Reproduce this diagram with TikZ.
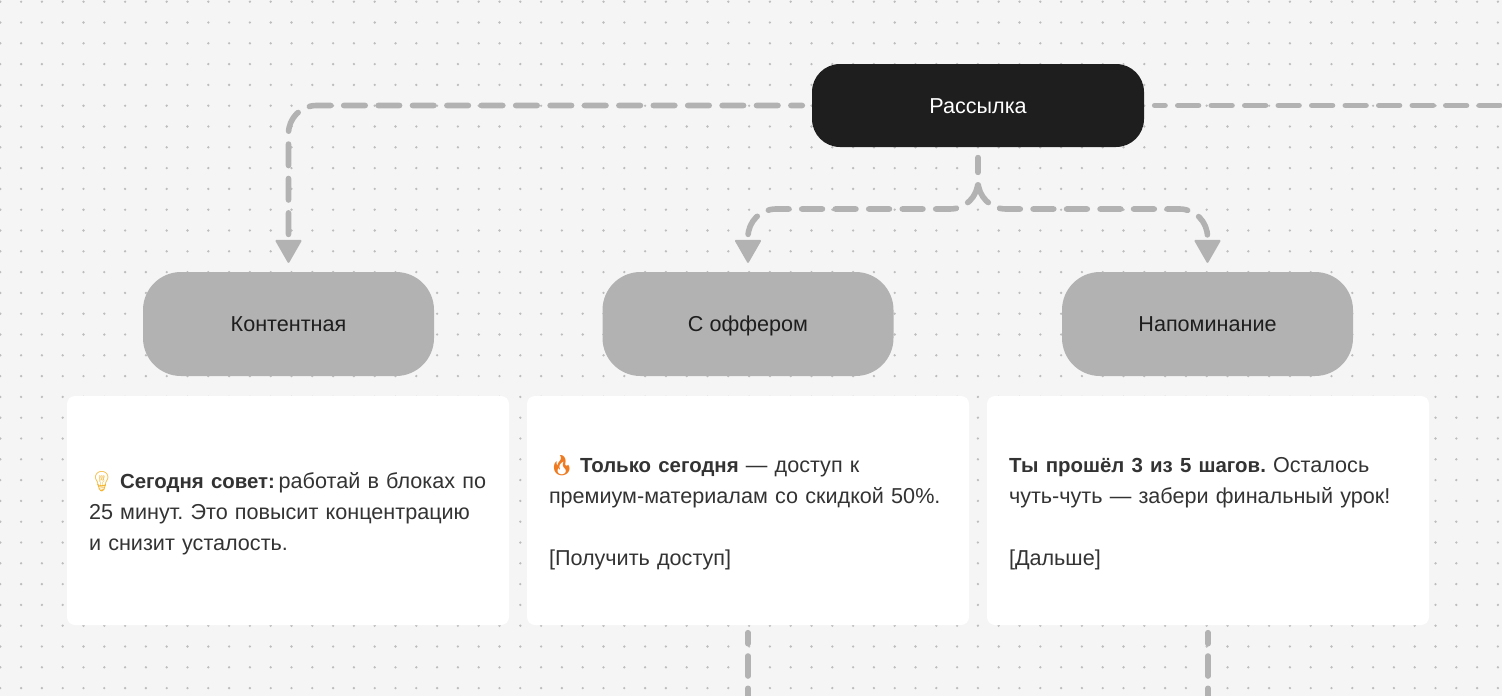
\documentclass[tikz,border=0pt]{standalone}
\usepackage{fontspec}
\setmainfont{Liberation Sans}[BoldFeatures={Scale=0.945}]
\newfontfamily\emojifont{Noto Emoji}
\usetikzlibrary{arrows.meta,positioning}
\definecolor{paper}{HTML}{F5F5F5}
\definecolor{griddot}{HTML}{BDBDBD}
\definecolor{ink}{HTML}{1E1E1E}
\definecolor{inktwo}{HTML}{333333}
\definecolor{cgray}{HTML}{B2B2B2}
\definecolor{camber}{HTML}{F2B632}
\definecolor{corange}{HTML}{EE7B22}
\newcommand{\emo}[2]{{\emojifont\fontsize{20}{31}\selectfont\color{#1}#2}\kern-1.5pt\relax}
\newcommand{\tstrut}{\rule[-5.6pt]{0pt}{26.6pt}}
\tikzset{
  every node/.style={text=ink},
  % one look per row: black head, gray kinds, white letters
  bodyfont/.style={font=\fontsize{21.6}{31}\selectfont\frenchspacing, execute at begin node=\tstrut, execute at end node=\tstrut},
  headbox/.style={bodyfont, fill=ink, text=white, rounded corners=28pt, inner sep=0pt,
              minimum width=332pt, minimum height=83pt},
  kindbox/.style={bodyfont, fill=cgray, rounded corners=38pt, inner sep=0pt,
              minimum width=291pt, minimum height=104pt},
  mailbox/.style={bodyfont, execute at begin node=\rule{0pt}{23pt}, fill=white, text=inktwo, rounded corners=8pt,
              inner xsep=22pt, inner ysep=0pt, align=left, text width=398pt, minimum height=229pt},
  dline/.style={color=cgray, line width=5.6pt, line cap=round, line join=round,
              dash pattern=on 20.7pt off 12.8pt},
  darr/.style={dline, rounded corners=28pt, shorten >=9pt,
              -{Triangle[length=24pt,width=27pt,round,line width=2pt]}},
}
\begin{document}
\begin{tikzpicture}[x=1pt,y=-1pt]
  \useasboundingbox (0,0) rectangle (1502,696);
  \fill[paper] (0,0) rectangle (1502,696);
  % ---- dot grid ----
  \foreach \i in {0,...,72}{
    \foreach \j in {0,...,33}{
      \fill[griddot] (0.3+\i*20.8,1.7+\j*20.8) circle (1.3);
    }
  }

  % ---- top: the mailing ----
  \node[headbox] (mail) at (978,105.5) {Рассылка};

  % ---- row 1: the kinds ----
  \node[kindbox] (content) at (288.5,324) {Контентная};
  \node[kindbox] (offer)   at (748,324)   {С оффером};
  \node[kindbox] (remind)  at (1207.5,324) {Напоминание};

  % ---- row 2: the letters ----
  \node[mailbox] (contentmail) at (288,510.5)
        {\mbox{\emo{camber}{💡} \textbf{Сегодня совет:}\kern-3.5pt{} работай в блоках по}\\25 минут. Это повысит концентрацию\\и снизит усталость.};
  \node[mailbox] (offermail) at (748,510.5)
        {\emo{corange}{🔥} \textbf{Только сегодня} — доступ к\\премиум-материалам со скидкой 50\%.\\\mbox{}\\{[}Получить доступ{]}};
  \node[mailbox] (remindmail) at (1208,510.5)
        {\textbf{Ты прошёл 3 из 5 шагов.} Осталось\\чуть-чуть — забери финальный урок!\\\mbox{}\\{[}Дальше{]}};

  % free ends and the fork
  \coordinate (fork) at (978,209);
  \coordinate (rightend) at (1504,105.5);
  \coordinate (offerend) at (748,700);
  \coordinate (remindend) at (1208,700);

  \draw[darr, dash pattern=on 21.5pt off 12.9pt, dash phase=10.1pt] ([xshift=-9.5pt]mail.west) -| (content.north);
  \draw[darr, dash phase=6.2pt] ([yshift=-10.5pt]mail.south) -- (fork) -| (offer.north);
  \draw[darr, dash phase=6.2pt] ([yshift=-10.5pt]mail.south) -- (fork) -| (remind.north);
  \draw[dline, dash phase=10.4pt] ([xshift=10.5pt]mail.east) -- (rightend);
  \draw[dline, dash pattern=on 20pt off 12.3pt, dash phase=9pt] ([yshift=-7.5pt]offermail.south) -- (offerend);
  \draw[dline, dash pattern=on 20pt off 12.3pt, dash phase=9pt] ([yshift=-7.5pt]remindmail.south) -- (remindend);
\end{tikzpicture}
\end{document}
